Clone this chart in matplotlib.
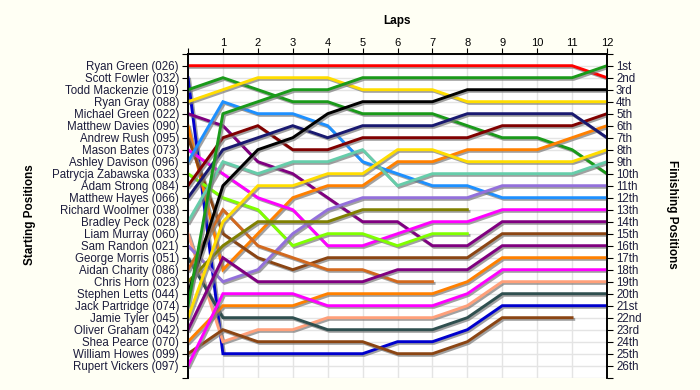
import matplotlib
matplotlib.use('Agg')
import matplotlib.pyplot as plt
import matplotlib.patheffects as pe

plt.rcParams['font.family'] = ['Liberation Sans', 'DejaVu Sans']

laps = list(range(13))

drivers = ['Ryan Green (026)', 'Scott Fowler (032)', 'Todd Mackenzie (019)', 'Ryan Gray (088)',
           'Michael Green (022)', 'Matthew Davies (090)', 'Andrew Rush (095)', 'Mason Bates (073)',
           'Ashley Davison (096)', 'Patrycja Zabawska (033)', 'Adam Strong (084)', 'Matthew Hayes (066)',
           'Richard Woolmer (038)', 'Bradley Peck (028)', 'Liam Murray (060)', 'Sam Randon (021)',
           'George Morris (051)', 'Aidan Charity (086)', 'Chris Horn (023)', 'Stephen Letts (044)',
           'Jack Partridge (074)', 'Jamie Tyler (045)', 'Oliver Graham (042)', 'Shea Pearce (070)',
           'William Howes (099)', 'Rupert Vickers (097)']

colours = ['#ff0000', '#0000cd', '#1a9a1a', '#ffdd00', '#800080', '#ff8000', '#8b4513', '#ff00ff',
           '#1e90ff', '#80ff00', '#800000', '#191970', '#66cdaa', '#66cdaa', '#ffa07a', '#9370db',
           '#2f4f4f', '#d2691e', '#808000', '#000000', '#1a9a1a', '#ffdd00', '#800080', '#ff8000',
           '#8b4513', '#ff00ff']

# position at each lap (lap 0 = grid), list ends when the driver retired
positions = [
    [1, 1, 1, 1, 1, 1, 1, 1, 1, 1, 1, 1, 2],
    [2, 25, 25, 25, 25, 25, 24, 24, 23, 21, 21, 21, 21],
    [3, 2, 3, 4, 4, 5, 5, 5, 6, 7, 7, 8, 10],
    [4, 3, 2, 2, 2, 3, 3, 3, 4, 4, 4, 4, 4],
    [5, 6, 9, 10, 12, 14, 14, 16, 16, 14, 14, 14, 14],
    [6, 18, 15, 12, 11, 11, 9, 9, 8, 8, 8, 7, 6],
    [7, 15, 17, 18, 17, 17, 17, 17, 17, 15, 15, 15, 15],
    [8, 10, 12, 13, 16, 16, 15, 14, 14, 13, 13, 13, 13],
    [9, 4, 5, 5, 6, 9, 10, 11, 11, 12, 12, 12, 12],
    [10, 12, 13, 16, 15, 15, 16, 15, 15],
    [11, 7, 6, 8, 8, 7, 7, 7, 7, 6, 6, 6, 5],
    [12, 8, 7, 6, 7, 6, 6, 6, 5, 5, 5, 5, 7],
    [13],
    [14, 9, 10, 9, 9, 8, 11, 10, 10, 10, 10, 10, 9],
    [15, 24, 23, 23, 22, 22, 22, 22, 21, 19, 19, 19, 19],
    [16, 19, 18, 15, 13, 12, 12, 12, 12, 11, 11, 11, 11],
    [17, 22, 22, 22, 23, 23, 23, 23, 22, 20, 20, 20, 20],
    [18, 13, 16, 17, 18, 18, 19, 19],
    [19, 16, 14, 14, 14, 13, 13, 13, 13],
    [20, 11, 8, 7, 5, 4, 4, 4, 3, 3, 3, 3, 3],
    [21, 5, 4, 3, 3, 2, 2, 2, 2, 2, 2, 2, 1],
    [22, 14, 11, 11, 10, 10, 8, 8, 9, 9, 9, 9, 8],
    [23, 17, 19, 19, 19, 19, 18, 18, 18, 16, 16, 16, 16],
    [24, 21, 21, 21, 20, 20, 20, 20, 19, 17, 17, 17, 17],
    [25, 23, 24, 24, 24, 24, 25, 25, 24, 22, 22, 22],
    [26, 20, 20, 20, 21, 21, 21, 21, 20, 18, 18, 18, 18],
]

finish_labels = ['1st', '2nd', '3rd'] + ['%dth' % i for i in range(4, 21)] + \
                ['21st', '22nd', '23rd', '24th', '25th', '26th']

txt_col = '#1c1c3c'

fig = plt.figure(figsize=(7, 3.9), dpi=100, facecolor='#fffff4')
ax = fig.add_axes([188 / 700, 1 - 377.7 / 390, 419 / 700, 324 / 390])
ax.set_facecolor('white')

shadow = [pe.SimpleLineShadow(offset=(1.2, -1.2), shadow_color='#7a7a7a', alpha=0.7), pe.Normal()]
for pos, col in zip(positions, colours):
    if len(pos) < 2:
        continue
    ax.plot(laps[:len(pos)], pos, color=col, lw=2.1, solid_joinstyle='miter',
            path_effects=shadow, zorder=3)

ax.set_xlim(0, 12)
ax.set_ylim(27, 0)

ax.set_xticks(laps)
ax.set_xticklabels([''] + [str(i) for i in laps[1:]])
ax.xaxis.tick_top()
ax.tick_params(axis='x', length=4, labelsize=8, pad=0, colors='black')
ax.set_xlabel('Laps', fontweight='bold', fontsize=8.5, labelpad=10)
ax.xaxis.set_label_position('top')

ax.set_yticks(range(28))
ax.set_yticklabels([''] + drivers + [''])
ax.tick_params(axis='y', length=4.5, labelsize=8.3, pad=2, labelcolor=txt_col)

ax2 = ax.twinx()
ax2.set_ylim(27, 0)
ax2.set_yticks(range(28))
ax2.set_yticklabels([''] + finish_labels + [''])
ax2.tick_params(axis='y', length=4.5, labelsize=8.3, pad=2, labelcolor=txt_col)

ax.grid(True, color='#e4e4e4', lw=1, zorder=0)
for a in (ax, ax2):
    a.spines['bottom'].set_visible(False)
    for s in ('left', 'right', 'top'):
        a.spines[s].set_linewidth(1.2)

fig.text(30 / 700, 1 - 215 / 390, 'Starting Positions', rotation=90, ha='center', va='center',
         fontweight='bold', fontsize=8.5)
fig.text(672 / 700, 1 - 214 / 390, 'Finishing Positions', rotation=270, ha='center', va='center',
         fontweight='bold', fontsize=8.5)

fig.savefig('out.png', dpi=100, facecolor=fig.get_facecolor())
